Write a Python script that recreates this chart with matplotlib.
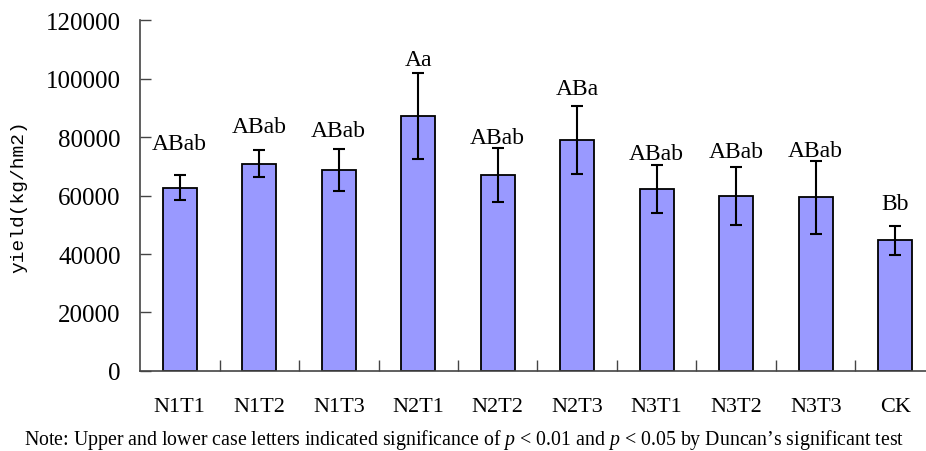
import numpy as np
import matplotlib
matplotlib.use("Agg")
import matplotlib.pyplot as plt
from matplotlib.ticker import MultipleLocator, FixedLocator

plt.rcParams['font.family'] = 'Liberation Serif'
plt.rcParams['mathtext.fontset'] = 'custom'
plt.rcParams['mathtext.rm'] = 'Liberation Serif'
plt.rcParams['mathtext.it'] = 'Liberation Serif:italic'

treatments = ["N1T1", "N1T2", "N1T3", "N2T1", "N2T2", "N2T3", "N3T1", "N3T2", "N3T3", "CK"]
yields = [62700, 70900, 68700, 87200, 67000, 79000, 62200, 59900, 59400, 44700]
errors = [4400, 4500, 7300, 14700, 9200, 11700, 8300, 9900, 12500, 4900]
letters = ["ABab", "ABab", "ABab", "Aa", "ABab", "ABa", "ABab", "ABab", "ABab", "Bb"]
letter_y = [75900, 81700, 80300, 104600, 77900, 94700, 72500, 73100, 73600, 55400]

fig = plt.figure(figsize=(9.26, 4.52), dpi=100)
ax = fig.add_axes([0.1512, 0.177, 0.8585, 0.7765])

x = np.arange(len(treatments))
ax.bar(x, yields, width=0.43, color='#9999FF', edgecolor='black', linewidth=1.3,
       yerr=errors, error_kw=dict(ecolor='black', elinewidth=1.5, capsize=4.5, capthick=1.5))

for xi, lab, ly in zip(x, letters, letter_y):
    ax.text(xi, ly, lab, ha='center', va='baseline', fontsize=17)

ax.set_xlim(-0.5, len(treatments) - 0.5)
ax.set_ylim(0, 120000)
ax.yaxis.set_major_locator(MultipleLocator(20000))
ax.set_xticks(x)
ax.set_xticklabels(treatments)
ax.xaxis.set_minor_locator(FixedLocator(np.arange(0.5, len(treatments) - 0.5, 1)))
ax.tick_params(axis='x', which='major', length=0, pad=19, labelsize=16)
ax.tick_params(axis='x', which='minor', direction='in', length=8, width=1, color='#444444')
ax.tick_params(axis='y', direction='in', length=8, width=1, color='#444444', pad=14, labelsize=18)

for s in ['top', 'right']:
    ax.spines[s].set_visible(False)
for s in ['left', 'bottom']:
    ax.spines[s].set_color('#444444')
    ax.spines[s].set_linewidth(1.2)

ax.set_ylabel("yield(kg/hm2)", family='Liberation Mono', fontsize=14)
ax.yaxis.set_label_coords(-0.142, 0.5)

fig.text(0.501, 0.016, "Note: Upper and lower case letters indicated significance of $p$ < 0.01 and $p$ < 0.05 by Duncan\u2019s significant test",
         ha='center', va='baseline', fontsize=14.3)

fig.savefig("out.png", dpi=100)
